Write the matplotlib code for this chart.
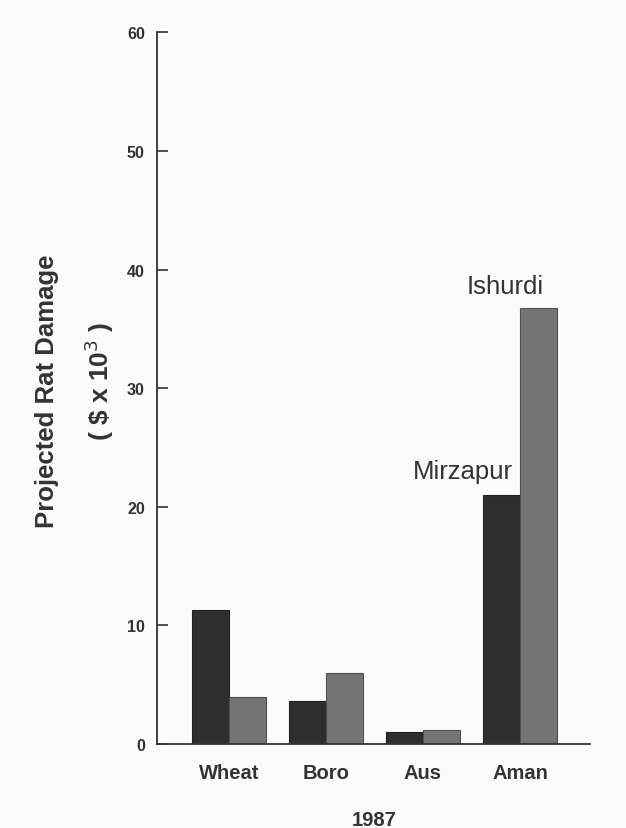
import numpy as np
import matplotlib.pyplot as plt

# data
crops = ['Wheat', 'Boro', 'Aus', 'Aman']
mirzapur = [11.3, 3.6, 1.0, 21.0]
ishurdi = [4.0, 6.0, 1.2, 36.8]
y_ticks = [0, 10, 20, 30, 40, 50, 60]

plt.rcParams['font.family'] = ['Liberation Sans', 'DejaVu Sans']

fig = plt.figure(figsize=(6.26, 8.29), dpi=100, facecolor='#fbfbfb')
ax = fig.add_axes([0.2513, 0.1013, 0.6912, 0.8585])
ax.set_facecolor('#fbfbfb')

x = np.arange(len(crops))
w = 0.38
ax.bar(x - w/2, mirzapur, w, color='#2e2e2e', edgecolor='#222222', lw=0.8)
ax.bar(x + w/2, ishurdi, w, color='#747474', edgecolor='#505050', lw=0.8)

ax.set_xlim(-0.735, 3.72)
ax.set_ylim(0, 60)
ax.set_yticks(y_ticks)
ax.set_yticklabels([str(t) for t in y_ticks], fontsize=11.5, fontweight='bold', color='#333333')
ax.tick_params(axis='y', direction='in', length=8, width=1.2, pad=9, colors='#333333')
ax.set_xticks(x)
ax.set_xticklabels(crops, fontsize=14.5, fontweight='bold', color='#333333')
ax.tick_params(axis='x', length=0, pad=14)
for s in ['top', 'right']:
    ax.spines[s].set_visible(False)
for s in ['left', 'bottom']:
    ax.spines[s].set_linewidth(1.3)
    ax.spines[s].set_color('#333333')

ax.text(3 - 0.07, 22.4, 'Mirzapur', ha='right', va='baseline', fontsize=18.5, color='#333333')
ax.text(3 - 0.15, 38.0, 'Ishurdi', ha='center', va='baseline', fontsize=18.5, color='#333333')

fig.text(374 / 626, 0.004, '1987', ha='center', va='baseline',
         fontsize=14.5, fontweight='bold', color='#333333')
fig.text(0.075, 0.528, 'Projected Rat Damage', rotation=90, ha='center', va='center',
         fontsize=18.5, fontweight='bold', color='#333333')
fig.text(0.158, 0.540, r'( \$ x 10$^3$ )', rotation=90, ha='center', va='center',
         fontsize=19, fontweight='bold', color='#333333')

fig.savefig('out.png', dpi=100, facecolor=fig.get_facecolor())
